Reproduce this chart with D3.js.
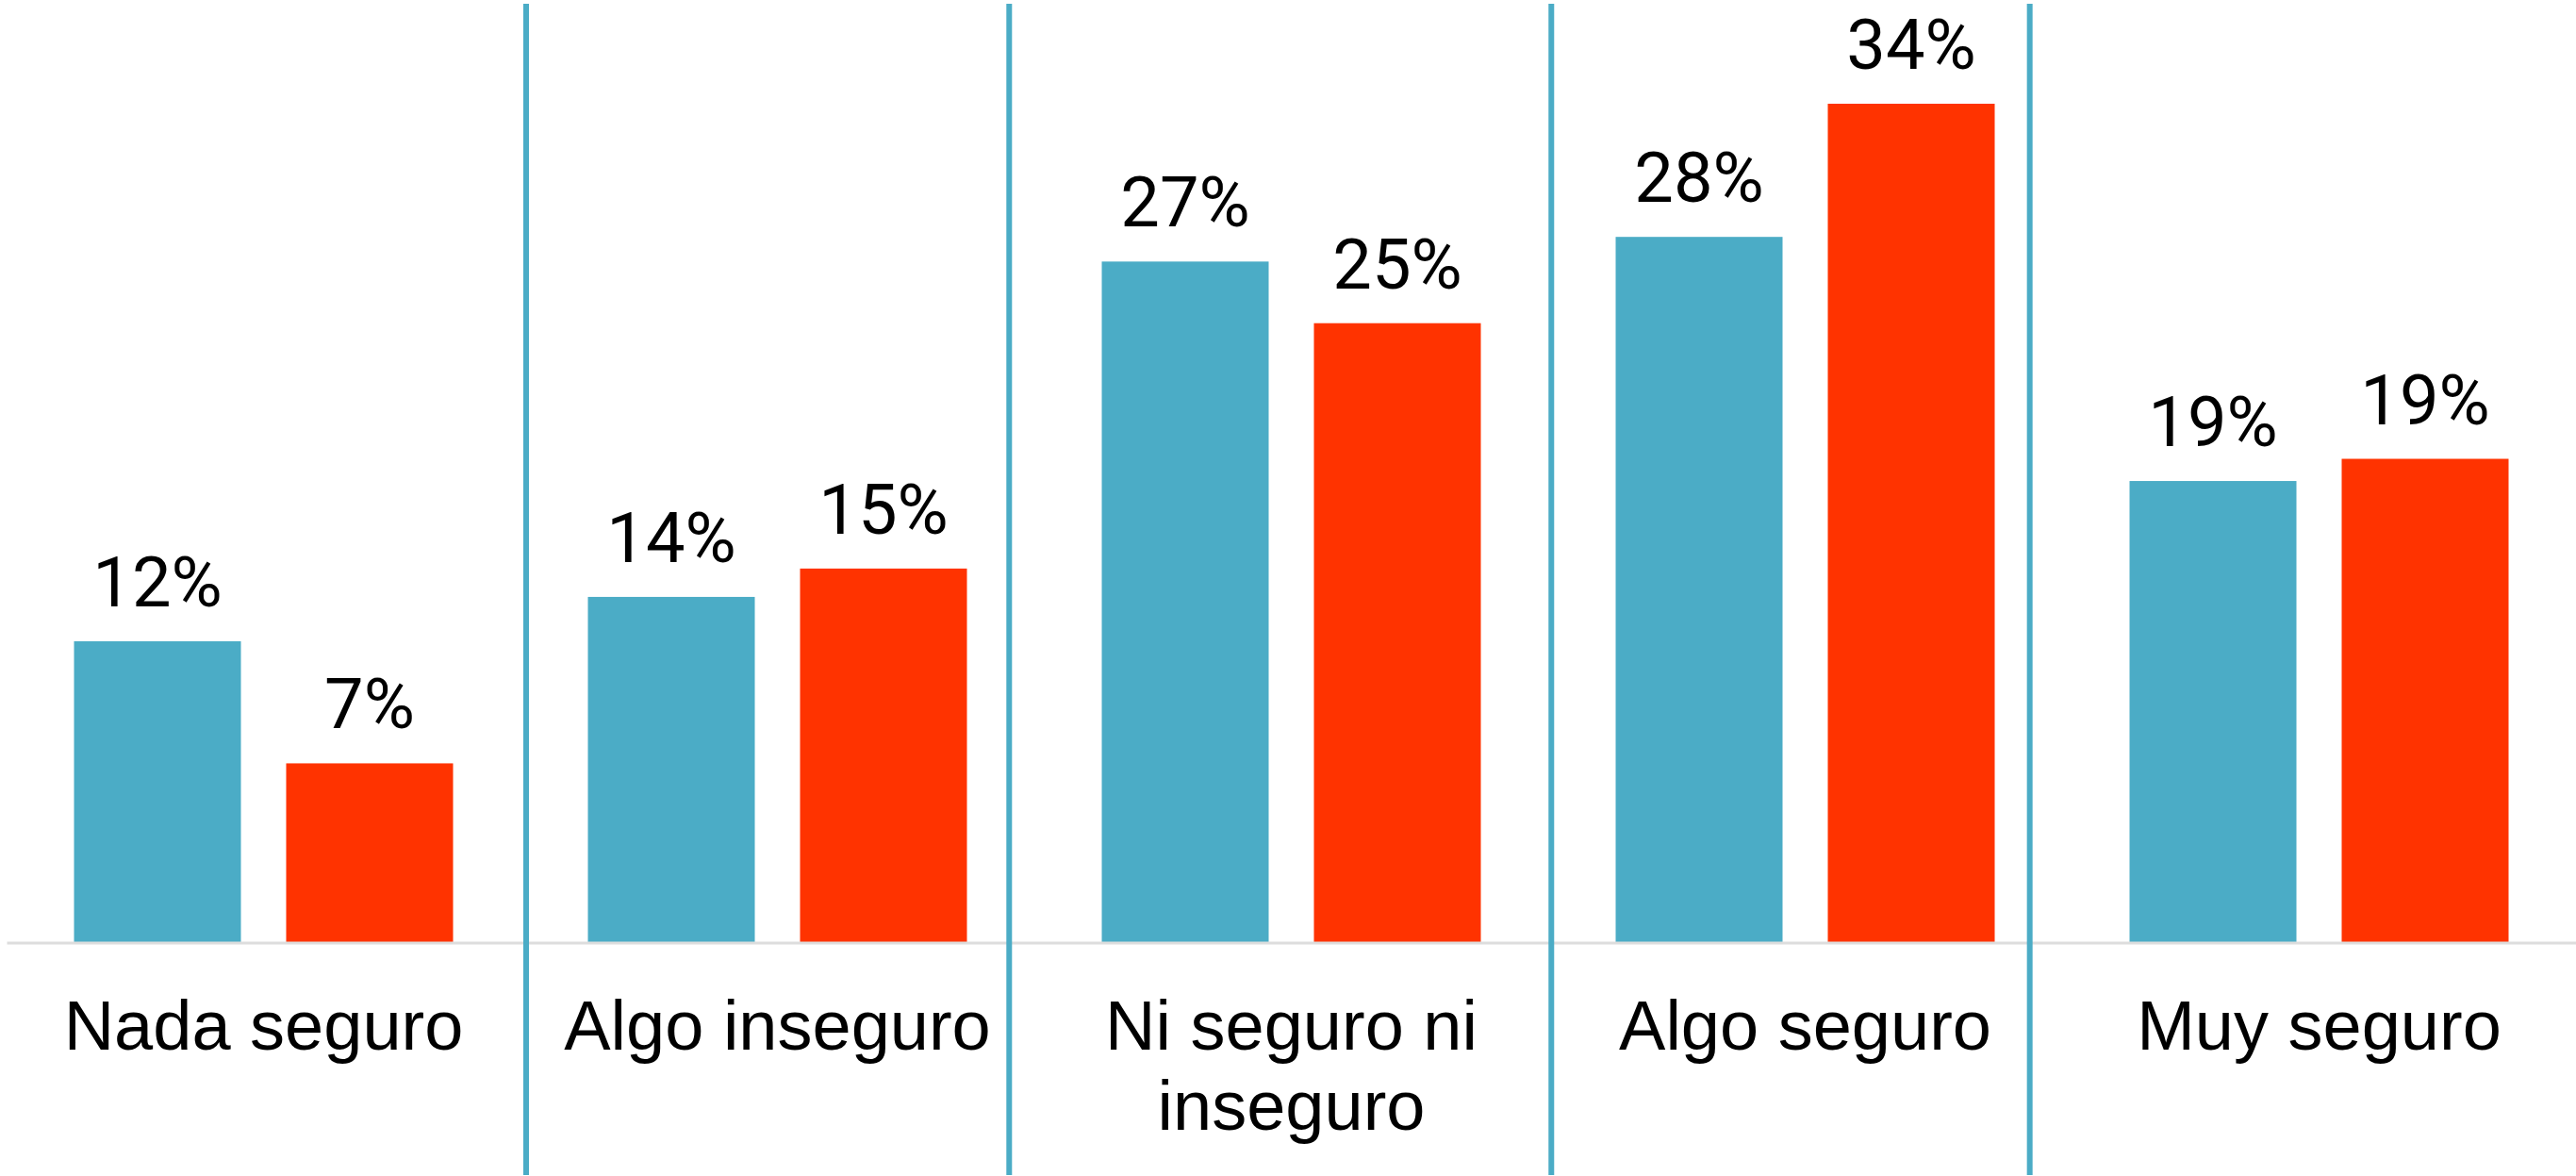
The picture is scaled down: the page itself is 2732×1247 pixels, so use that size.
<!DOCTYPE html>
<html>
<head>
<meta charset="utf-8">
<script src="https://cdn.jsdelivr.net/npm/d3@7"></script>
<style>
  body { margin: 0; background: #fff; }
  svg { display: block; }
</style>
</head>
<body>
<div id="chart"></div>
<script>
// categories and the two series
var categories = ["Nada seguro", "Algo inseguro", "Ni seguro ni inseguro", "Algo seguro", "Muy seguro"];
var seriesNames = ["a", "b"];
var blueValues = [12.2, 14.0, 27.6, 28.6, 18.7];
var redValues = [7.25, 15.15, 25.1, 34.0, 19.6];
var blueLabels = ["12%", "14%", "27%", "28%", "19%"];
var redLabels = ["7%", "15%", "25%", "34%", "19%"];
// separators, in units of category index
var dividers = [1.011, 1.951, 3.006, 3.937];

var width = 2732, height = 1247;
var colors = { a: "#4BACC6", b: "#FF3300" };

var rows = categories.map(function(c, i) {
  return { cat: c, vals: [
    { key: "a", v: blueValues[i], label: blueLabels[i] },
    { key: "b", v: redValues[i], label: redLabels[i] }
  ]};
});

var svg = d3.select("#chart").append("svg")
  .attr("width", width)
  .attr("height", height);

var x0 = d3.scaleBand()
  .domain(categories)
  .range([7, width])
  .padding(0);

var x1 = d3.scaleBand()
  .domain(seriesNames)
  .range([0, x0.bandwidth()])
  .paddingInner(0.2133)
  .paddingOuter(0.3178);

var y = d3.scaleLinear()
  .domain([0, 34])
  .range([999, 110]);

var xIdx = d3.scaleLinear()
  .domain([0, categories.length])
  .range([7, width]);

// bars
var groups = svg.selectAll("g.grp")
  .data(rows)
  .enter()
  .append("g")
  .attr("class", "grp")
  .attr("transform", function(d) { return "translate(" + x0(d.cat) + ",0)"; });

groups.selectAll("rect")
  .data(function(d) { return d.vals; })
  .enter()
  .append("rect")
  .attr("x", function(d) { return x1(d.key); })
  .attr("y", function(d) { return y(d.v); })
  .attr("width", x1.bandwidth())
  .attr("height", function(d) { return y(0) - y(d.v); })
  .attr("fill", function(d) { return colors[d.key]; });

groups.selectAll("text.val")
  .data(function(d) { return d.vals; })
  .enter()
  .append("text")
  .attr("class", "val")
  .attr("x", function(d) { return x1(d.key) + x1.bandwidth() / 2; })
  .attr("y", function(d) { return y(d.v) - 37; })
  .attr("text-anchor", "middle")
  .attr("font-family", "Roboto, 'Liberation Sans', sans-serif")
  .attr("font-size", 74)
  .attr("fill", "#000")
  .text(function(d) { return d.label; });

// baseline + category labels
var xAxis = d3.axisBottom(x0).tickSize(0).tickSizeOuter(0);
var axisG = svg.append("g")
  .attr("transform", "translate(0," + (y(0) + 0.5) + ")")
  .call(xAxis);

axisG.select(".domain")
  .attr("stroke", "#DDDDDD")
  .attr("stroke-width", 3);

axisG.selectAll(".tick text")
  .attr("font-family", "'Liberation Sans', Arial, sans-serif")
  .attr("font-size", 74)
  .attr("fill", "#000")
  .call(wrap, 500);

function wrap(sel, w) {
  sel.each(function() {
    var text = d3.select(this);
    var words = text.text().split(/\s+/);
    text.text(null);
    var line = [], lines = [];
    var tspan = text.append("tspan");
    words.forEach(function(word) {
      line.push(word);
      tspan.text(line.join(" "));
      if (tspan.node().getComputedTextLength() > w && line.length > 1) {
        line.pop();
        lines.push(line.join(" "));
        line = [word];
        tspan.text(word);
      }
    });
    lines.push(line.join(" "));
    text.text(null);
    lines.forEach(function(l, i) {
      text.append("tspan")
        .attr("x", 0)
        .attr("y", 113 + i * 85)
        .attr("dy", 0)
        .text(l);
    });
  });
}

// vertical separators
svg.selectAll("line.sep")
  .data(dividers)
  .enter()
  .append("line")
  .attr("class", "sep")
  .attr("x1", function(d) { return xIdx(d); })
  .attr("x2", function(d) { return xIdx(d); })
  .attr("y1", 4)
  .attr("y2", 1246)
  .attr("stroke", "#4BACC6")
  .attr("stroke-width", 6);
</script>
</body>
</html>
